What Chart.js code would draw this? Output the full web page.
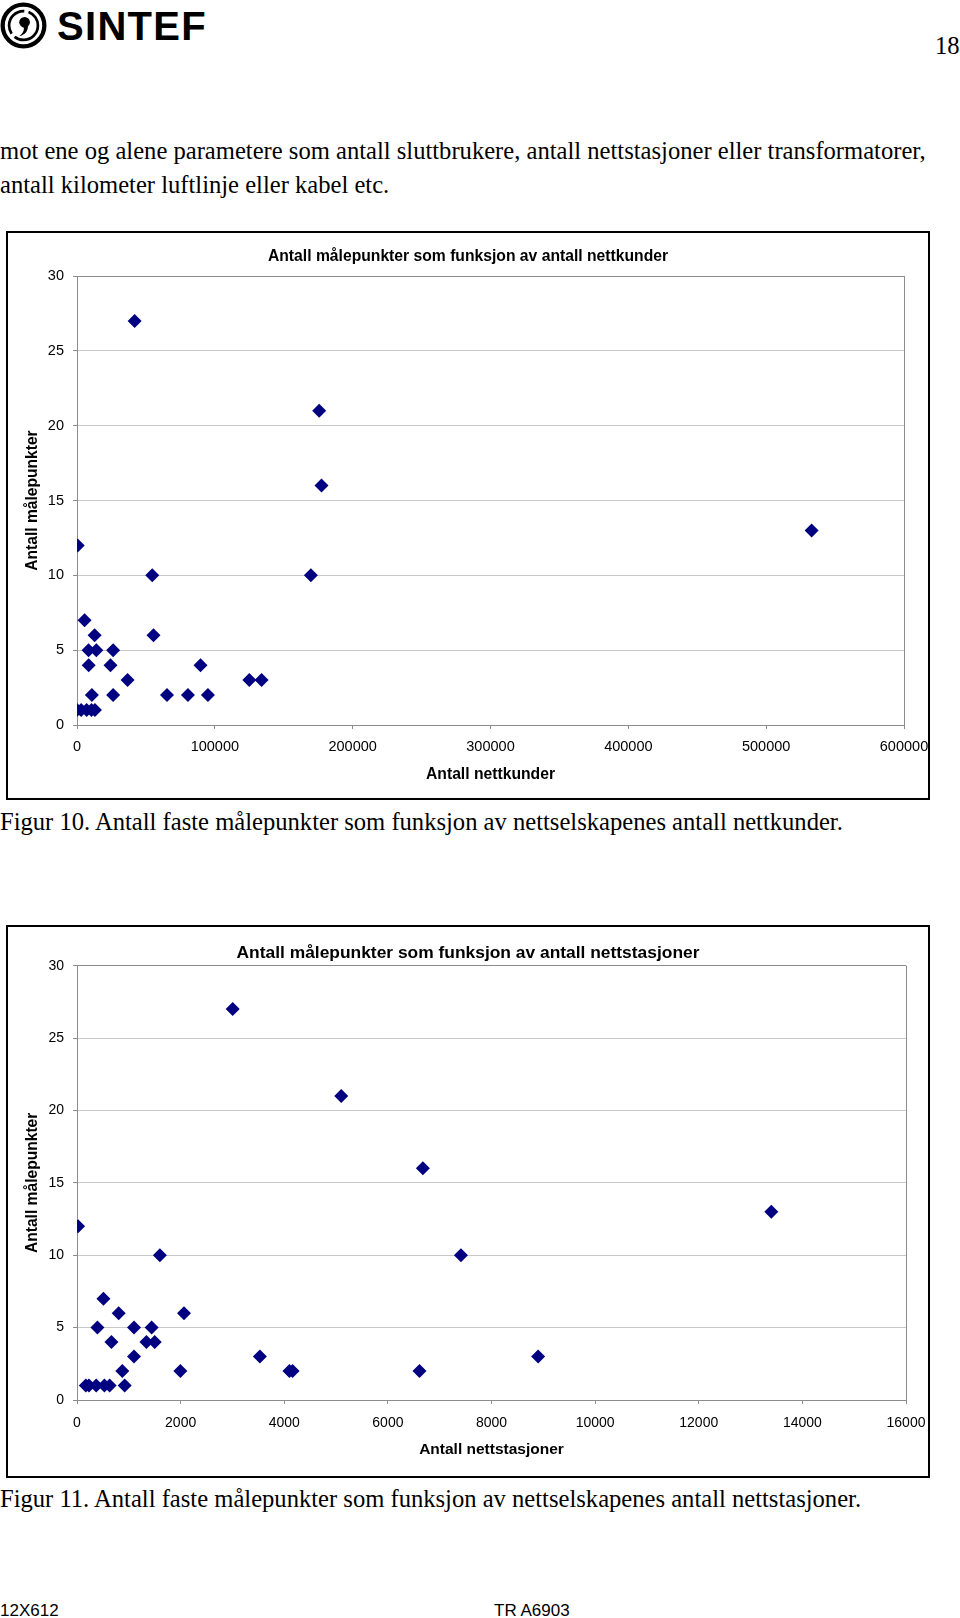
<!DOCTYPE html>
<html>
<head>
<meta charset="utf-8">
<script src="https://cdn.jsdelivr.net/npm/chart.js@4.4.1/dist/chart.umd.min.js"></script>
<style>
  html, body { margin: 0; padding: 0; background: #fff; }
  body { width: 960px; height: 1618px; position: relative; overflow: hidden; }
  .serif { position: absolute; font-family: "Liberation Serif", "Times New Roman", serif; font-size: 24.6px; color: #000; white-space: nowrap; }
  .frame { position: absolute; border: 2px solid #000; box-sizing: border-box; }
  .frame canvas { position: absolute; left: 0; top: 0; }
  .foot { position: absolute; font-family: "Liberation Sans Narrow", "Liberation Sans", Arial, sans-serif; font-size: 17px; color: #000; white-space: nowrap; }
  #logo { position: absolute; left: 0; top: 2px; }
  #logotext { position: absolute; left: 57px; top: 6px; line-height: 1; font-family: "Liberation Sans", Arial, sans-serif; font-weight: bold; font-size: 40px; letter-spacing: 1.3px; }
</style>
</head>
<body>
<svg id="logo" width="47" height="47" viewBox="0 0 44 44">
  <circle cx="22" cy="22" r="19.5" fill="none" stroke="#000" stroke-width="4"/>
  <circle cx="22" cy="22" r="13.5" fill="none" stroke="#000" stroke-width="2.5" stroke-dasharray="30 4"/>
  <circle cx="23" cy="19" r="5" fill="#000"/>
  <path d="M26 21 C27 27 23 31 18 32 C22 29 23 26 22 23 Z" fill="#000"/>
</svg>
<div id="logotext">SINTEF</div>
<div class="serif" style="left:935px; top:32px;">18</div>

<div class="serif" style="left:0; top:137px;">mot ene og alene parametere som antall sluttbrukere, antall nettstasjoner eller transformatorer,</div>
<div class="serif" style="left:0; top:171px;">antall kilometer luftlinje eller kabel etc.</div>

<div class="frame" style="left:6px; top:231px; width:924px; height:569px;">
  <canvas id="chart1" width="920" height="565"></canvas>
</div>
<div class="serif" style="left:0; top:808px;">Figur 10. Antall faste målepunkter som funksjon av nettselskapenes antall nettkunder.</div>

<div class="frame" style="left:6px; top:925px; width:924px; height:553px;">
  <canvas id="chart2" width="920" height="549"></canvas>
</div>
<div class="serif" style="left:0; top:1485px;">Figur 11. Antall faste målepunkter som funksjon av nettselskapenes antall nettstasjoner.</div>

<div class="foot" style="left:0; top:1601px;">12X612</div>
<div class="foot" style="left:494px; top:1601px;">TR A6903</div>

<script>
// Figur 10: antall nettkunder vs antall målepunkter
const kunderX = [0, 3000, 7000, 10500, 13000, 500, 5500, 12800, 55500, 8400, 14000, 26200,
  8500, 24300, 89600, 10800, 26200, 65300, 80500, 95000, 36700, 125000, 133900,
  54600, 169700, 41800, 175700, 177400, 533000];
const kunderY = [1, 1, 1, 1, 1, 12, 7, 6, 6, 5, 5, 5,
  4, 4, 4, 2, 2, 2, 2, 2, 3, 3, 3,
  10, 10, 27, 21, 16, 13];

// Figur 11: antall nettstasjoner vs antall målepunkter
const stasjonerX = [170, 230, 370, 530, 630, 920, 875, 1995, 4100, 4160, 6610,
  1100, 3530, 8900, 665, 1340, 1500, 395, 1100, 1440, 805, 2065, 510,
  1600, 7410, 20, 13400, 6675, 5100, 3005];
const stasjonerY = [1, 1, 1, 1, 1, 1, 2, 2, 2, 2, 2,
  3, 3, 3, 4, 4, 4, 5, 5, 5, 6, 6, 7,
  10, 10, 12, 13, 16, 21, 27];

const yTicksMax = 30;
const yStep = 5;

const AXIS = "#8c8c8c";
const GRID = "#c8c8c8";
const NAVY = "#000080";
const SANS = "'Liberation Sans', Arial, sans-serif";

function pairs(xs, ys) {
  return xs.map((x, i) => ({ x: x, y: ys[i] }));
}

function makeChart(id, cfg) {
  const ctx = document.getElementById(id);
  return new Chart(ctx, {
    type: "scatter",
    data: {
      datasets: [{
        data: pairs(cfg.xs, cfg.ys),
        pointStyle: "rectRot",
        pointRadius: 7,
        pointBackgroundColor: NAVY,
        pointBorderColor: NAVY,
        pointBorderWidth: 0
      }]
    },
    options: {
      responsive: false,
      animation: false,
      devicePixelRatio: 1,
      layout: { padding: 0 },
      plugins: {
        legend: { display: false },
        tooltip: { enabled: false },
        title: {
          display: true,
          text: cfg.title,
          color: "#000",
          font: { family: SANS, size: cfg.titleSize, weight: "bold" },
          padding: { top: cfg.titleTop, bottom: cfg.titleBottom }
        }
      },
      scales: {
        x: {
          type: "linear",
          min: 0,
          max: cfg.xMax,
          afterFit: s => {
            s.height = cfg.xHeight;
            s.paddingLeft = 0;
            s.paddingRight = 0;
          },
          ticks: {
            stepSize: cfg.xStep,
            autoSkip: false,
            maxRotation: 0,
            padding: cfg.xTickPad,
            color: "#000",
            font: { family: SANS, size: cfg.tickSize },
            callback: v => String(v)
          },
          grid: {
            drawOnChartArea: true,
            color: c => (c.tick && c.tick.value === cfg.xMax) ? AXIS : "rgba(0,0,0,0)",
            tickColor: AXIS,
            tickLength: 4
          },
          border: { color: AXIS, width: 1 },
          title: {
            display: true,
            text: cfg.xTitle,
            color: "#000",
            font: { family: SANS, size: cfg.xTitleSize, weight: "bold" },
            padding: { top: 0, bottom: cfg.xTitleBottom }
          }
        },
        y: {
          min: 0,
          max: yTicksMax,
          afterFit: s => { s.width = cfg.yWidth; },
          ticks: {
            stepSize: yStep,
            padding: 9,
            color: "#000",
            font: { family: SANS, size: cfg.tickSize }
          },
          grid: {
            color: c => (c.tick && c.tick.value === yTicksMax) ? AXIS : GRID,
            tickColor: AXIS,
            tickLength: 4
          },
          border: { color: AXIS, width: 1 },
          title: {
            display: true,
            text: "Antall målepunkter",
            color: "#000",
            font: { family: SANS, size: 15.6, weight: "bold" },
            padding: { top: 15, bottom: 0 }
          }
        },
        // empty right axis: only keeps the white margin right of the plot
        spacer: {
          position: "right",
          display: true,
          afterFit: s => { s.width = cfg.padRight; },
          ticks: { display: false },
          grid: { display: false, drawTicks: false },
          border: { display: false }
        }
      }
    }
  });
}

makeChart("chart1", {
  xs: kunderX, ys: kunderY,
  title: "Antall målepunkter som funksjon av antall nettkunder",
  titleSize: 15.7, titleTop: 14, titleBottom: 10.2,
  xMax: 600000, xStep: 100000, xTickPad: 9,
  xTitle: "Antall nettkunder", xTitleSize: 15.7, xTitleBottom: 14,
  xHeight: 73, yWidth: 69, padRight: 24, tickSize: 14.5
});

makeChart("chart2", {
  xs: stasjonerX, ys: stasjonerY,
  title: "Antall målepunkter som funksjon av antall nettstasjoner",
  titleSize: 17.4, titleTop: 16, titleBottom: 1.8,
  xMax: 16000, xStep: 2000, xTickPad: 11,
  xTitle: "Antall nettstasjoner", xTitleSize: 15.5, xTitleBottom: 17,
  xHeight: 76, yWidth: 69, padRight: 22, tickSize: 14
});
</script>
</body>
</html>
